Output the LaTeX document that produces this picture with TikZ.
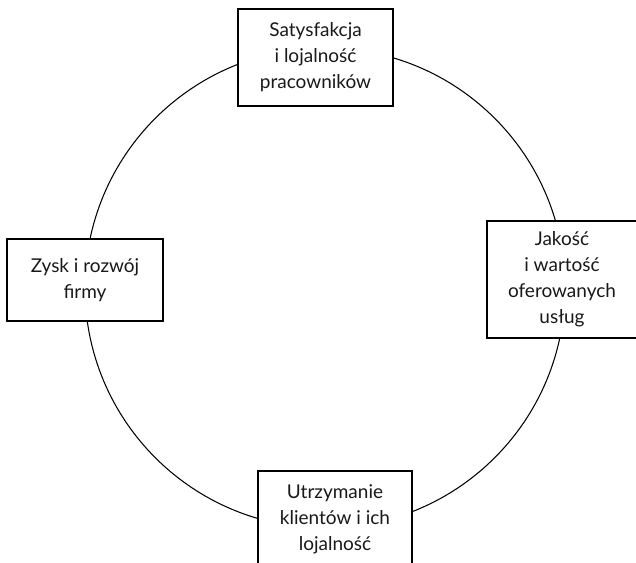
\documentclass[tikz,border=0pt]{standalone}
\usepackage{fontspec}
\setmainfont{Lato}
\begin{document}
\begin{tikzpicture}[x=1pt,y=-1pt,
  cyclebox/.style={draw=black, line width=1.1pt, fill=white, align=center,
    inner sep=0pt, font=\fontsize{19}{26}\selectfont, text=black!90},
  ring/.style={draw=black, line width=1.05pt}]
  \useasboundingbox (0,0) rectangle (636,562);
  \clip (0,0) rectangle (636,562);
  % the cycle
  \draw[ring] (325,288) circle[radius=240];
  % stages on the cycle
  \node[cyclebox, minimum width=155pt, minimum height=97pt] (staff) at (315.5,57.5)
    {Satysfakcja\\i lojalność\\pracowników};
  \node[cyclebox, minimum width=150pt, minimum height=117pt] (quality) at (562,279.5)
    {Jakość\\i wartość\\oferowanych\\usług};
  \node[cyclebox, minimum width=154pt, minimum height=97pt] (clients) at (335,519.5)
    {Utrzymanie\\klientów i ich\\lojalność};
  \node[cyclebox, minimum width=156pt, minimum height=82pt] (profit) at (85,280)
    {Zysk i rozwój\\firmy};
\end{tikzpicture}
\end{document}
